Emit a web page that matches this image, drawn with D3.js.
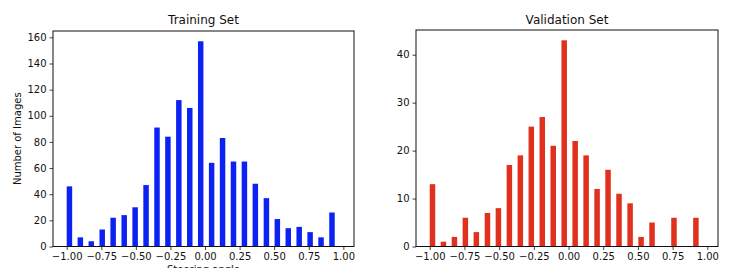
<!DOCTYPE html>
<html>
<head>
<meta charset="utf-8">
<script src="https://cdn.jsdelivr.net/npm/d3@7"></script>
<style>
  body { margin: 0; background: #fff; }
  svg { display: block; }
  text { font-family: "DejaVu Sans", sans-serif; fill: #111; }
</style>
</head>
<body>
<svg id="chart" width="734" height="268"></svg>
<script>
// left edge of each histogram bin (steering angle)
const binStarts = [-1.000, -0.921, -0.842, -0.763, -0.684, -0.604, -0.525, -0.446, -0.367,
  -0.288, -0.209, -0.130, -0.051, 0.028, 0.107, 0.186, 0.265, 0.344, 0.424, 0.503,
  0.582, 0.661, 0.740, 0.819, 0.898];
const binWidth = 0.0791;

const trainCounts = [46, 7, 4, 13, 22, 24, 30, 47, 91, 84, 112, 106, 157, 64, 83, 65, 65,
  48, 37, 21, 14, 15, 11, 7, 26];
const validCounts = [13, 1, 2, 6, 3, 7, 8, 17, 19, 25, 27, 21, 43, 22, 19, 12, 16, 11, 9,
  2, 5, 0, 6, 0, 6];

const xTicks = [-1.0, -0.75, -0.5, -0.25, 0, 0.25, 0.5, 0.75, 1.0];
const trainYTicks = [0, 20, 40, 60, 80, 100, 120, 140, 160];
const validYTicks = [0, 10, 20, 30, 40];

const svg = d3.select("#chart");

function drawPanel(opts) {
  const {left, right, top, bottom, counts, yTicks, color, title, ylabel, xlabel} = opts;

  const x = d3.scaleLinear().domain([-1.099, 1.077]).range([left, right]);
  const yMax = d3.max(counts) * 1.05;
  const y = d3.scaleLinear().domain([0, yMax]).range([bottom, top]);

  const g = svg.append("g");

  g.selectAll("rect.bar")
    .data(counts)
    .join("rect")
    .attr("class", "bar")
    .attr("x", (d, i) => x(binStarts[i]))
    .attr("width", (d, i) => x(binStarts[i] + binWidth * 0.5) - x(binStarts[i]))
    .attr("y", d => y(d))
    .attr("height", d => y(0) - y(d))
    .attr("fill", color);

  const fmt = d => d < 0 ? "\u2212" + d3.format(".2f")(-d) : d3.format(".2f")(d);

  const xAxis = d3.axisBottom(x).tickValues(xTicks).tickFormat(fmt).tickSize(3.5).tickPadding(3);
  const gx = g.append("g").attr("transform", `translate(0,${bottom})`).call(xAxis);

  const yAxis = d3.axisLeft(y).tickValues(yTicks).tickSize(3.5).tickPadding(3);
  const gy = g.append("g").attr("transform", `translate(${left},0)`).call(yAxis);

  [gx, gy].forEach(a => {
    a.select(".domain").remove();
    a.selectAll("line").attr("stroke", "#111").attr("stroke-width", 0.8);
    a.selectAll("text").style("font-size", "10px").style("font-family", "DejaVu Sans").attr("fill", "#111");
  });

  // frame
  g.append("rect")
    .attr("x", left).attr("y", top)
    .attr("width", right - left).attr("height", bottom - top)
    .attr("fill", "none").attr("stroke", "#111").attr("stroke-width", 1);

  g.append("text")
    .attr("x", (left + right) / 2).attr("y", 24)
    .attr("text-anchor", "middle")
    .style("font-size", "12px")
    .text(title);

  if (ylabel) {
    g.append("text")
      .attr("transform", `translate(21,${(top + bottom) / 2}) rotate(-90)`)
      .attr("text-anchor", "middle")
      .style("font-size", "10px")
      .text(ylabel);
  }
  if (xlabel) {
    g.append("text")
      .attr("x", (left + right) / 2).attr("y", 273)
      .attr("text-anchor", "middle")
      .style("font-size", "10px")
      .text(xlabel);
  }
}

drawPanel({
  left: 53, right: 354, top: 31, bottom: 246.5,
  counts: trainCounts, yTicks: trainYTicks, color: "#0b22f2",
  title: "Training Set", ylabel: "Number of Images", xlabel: "Steering angle"
});

drawPanel({
  left: 416, right: 718, top: 30, bottom: 246.5,
  counts: validCounts, yTicks: validYTicks, color: "#e0301e",
  title: "Validation Set"
});
</script>
</body>
</html>
